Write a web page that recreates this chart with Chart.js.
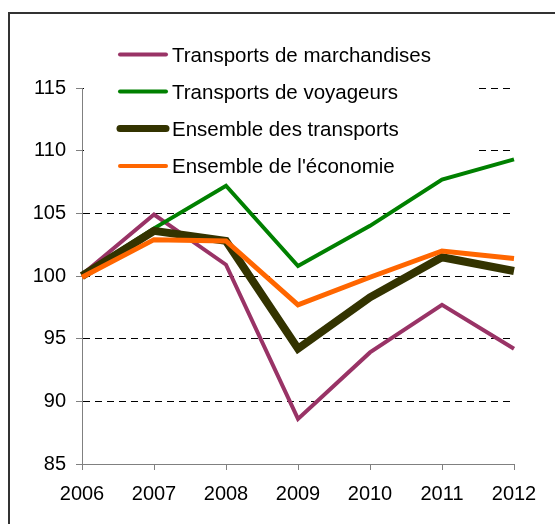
<!DOCTYPE html>
<html>
<head>
<meta charset="utf-8">
<script src="https://cdn.jsdelivr.net/npm/chart.js@4"></script>
<style>
  html, body { margin: 0; padding: 0; background: #fff; }
  #wrap { width: 555px; height: 524px; }
</style>
</head>
<body>
<div id="wrap"><canvas id="chart" width="555" height="524"></canvas></div>
<script>
const years = ['2006', '2007', '2008', '2009', '2010', '2011', '2012'];
const marchandises = [100.1, 104.9, 100.9, 88.6, 93.9, 97.7, 94.2];
const voyageurs = [100.1, 103.8, 107.2, 100.8, 104.0, 107.7, 109.3];
const ensembleTransports = [100.0, 103.6, 102.8, 94.2, 98.3, 101.5, 100.4];
const economie = [99.9, 102.9, 102.8, 97.7, 99.9, 102.0, 101.4];
const yTicks = [85, 90, 95, 100, 105, 110, 115];

const FONT = "'Liberation Sans', Arial, sans-serif";

// legend drawn over the plot with a white box (hides the grid behind it)
const legendBox = {
  id: 'legendBox',
  beforeDatasetsDraw(chart) {
    const ctx = chart.ctx;
    ctx.save();
    ctx.fillStyle = '#fff';
    ctx.fillRect(84, 34, 394, 148);
    const rowY = [54.5, 91.5, 128.5, 166];
    chart.data.datasets.forEach((ds, i) => {
      const y = rowY[i];
      ctx.beginPath();
      ctx.lineCap = 'round';
      ctx.lineWidth = ds.legendWidth;
      ctx.strokeStyle = ds.borderColor;
      ctx.moveTo(120, y);
      ctx.lineTo(166, y);
      ctx.stroke();
      ctx.fillStyle = '#000';
      ctx.font = '20.5px ' + FONT;
      ctx.textBaseline = 'middle';
      ctx.fillText(ds.label, 172, y + 1.5);
    });
    ctx.restore();
  },
  afterDraw(chart) {
    const ctx = chart.ctx;
    ctx.save();
    ctx.strokeStyle = '#333';
    ctx.lineWidth = 2;
    ctx.strokeRect(9, 13, 700, 700);
    ctx.restore();
  }
};

new Chart(document.getElementById('chart').getContext('2d'), {
  type: 'line',
  data: {
    labels: years,
    datasets: [
      { label: 'Transports de marchandises', data: marchandises, borderColor: '#993366', borderWidth: 4, legendWidth: 4, order: 3 },
      { label: 'Transports de voyageurs', data: voyageurs, borderColor: '#008000', borderWidth: 4, legendWidth: 4, order: 2 },
      { label: 'Ensemble des transports', data: ensembleTransports, borderColor: '#333300', borderWidth: 8, legendWidth: 7, order: 1 },
      { label: "Ensemble de l'économie", data: economie, borderColor: '#FF6600', borderWidth: 5, legendWidth: 4, order: 0 }
    ]
  },
  options: {
    responsive: false,
    animation: false,
    layout: { padding: { top: 88, right: 41, left: 0, bottom: 0 } },
    elements: {
      point: { radius: 0 },
      line: { tension: 0, fill: false }
    },
    plugins: {
      legend: { display: false },
      tooltip: { enabled: false }
    },
    scales: {
      x: {
        offset: false,
        afterFit: s => { s.height = 60; },
        grid: { drawOnChartArea: false, drawTicks: true, tickLength: 6, tickColor: '#808080' },
        border: { color: '#808080', width: 1 },
        ticks: { color: '#000', font: { family: FONT, size: 20 }, padding: 12, maxRotation: 0 }
      },
      y: {
        min: 85,
        max: 115,
        afterFit: s => { s.width = 82; },
        afterBuildTicks: s => { s.ticks = yTicks.map(v => ({ value: v })); },
        grid: {
          color: '#000',
          lineWidth: 1,
          tickLength: 6,
          tickColor: '#808080'
        },
        border: { color: '#808080', width: 1, dash: [7, 5] },
        ticks: { color: '#000', font: { family: FONT, size: 20 }, padding: 10 }
      }
    }
  },
  plugins: [legendBox]
});
</script>
</body>
</html>
